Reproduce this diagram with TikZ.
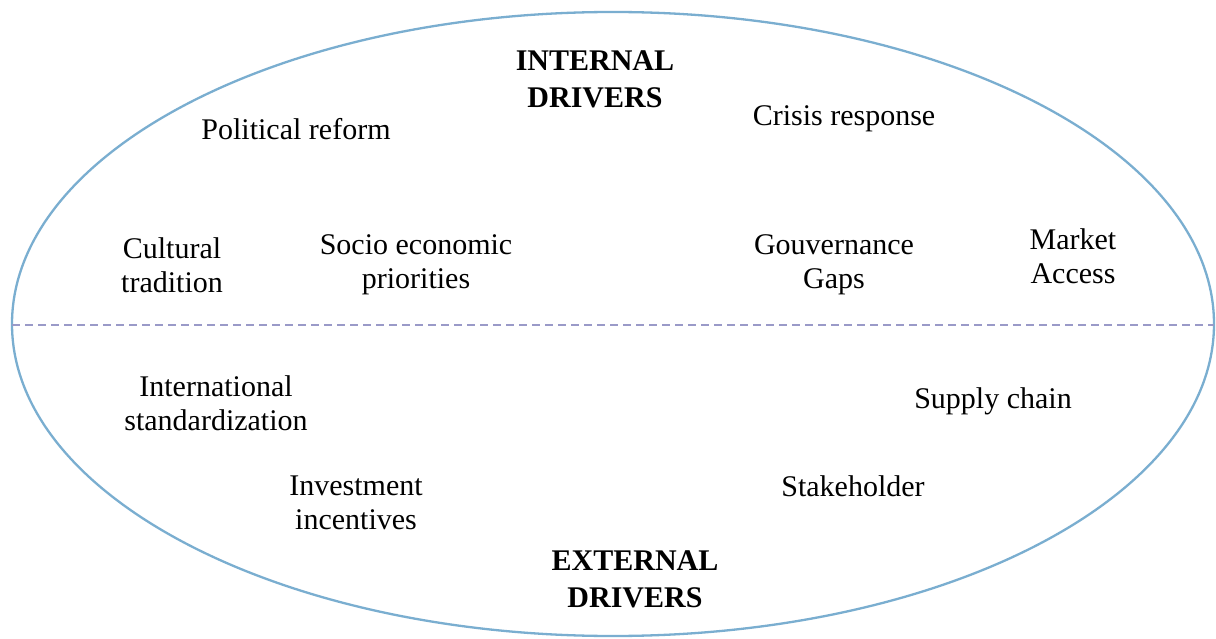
\documentclass[tikz,border=0pt]{standalone}
\usepackage{fontspec}
\setmainfont{Liberation Serif}
\definecolor{ellcol}{HTML}{7AAED0}
\definecolor{dashcol}{HTML}{9A9AC8}
\begin{document}
\begin{tikzpicture}[x=1pt,y=-1pt,
  lbl/.style={align=center,inner sep=0pt,font=\fontsize{30}{34}\selectfont},
  hdr/.style={align=center,inner sep=0pt,font=\fontsize{30}{37}\selectfont\bfseries}]
\useasboundingbox[fill=white] (0,0) rectangle (1216,639);
\draw[ellcol,line width=2.3pt] (613,324) ellipse [x radius=601, y radius=312];
\coordinate (dl) at (12,325);
\coordinate (dr) at (1214,325);
\draw[dashcol,line width=1.3pt,dash pattern=on 8pt off 5pt] (dl) -- (dr);
\node[hdr] (int) at (595,79) {INTERNAL\\DRIVERS};
\node[hdr] (ext) at (635,579) {EXTERNAL\\DRIVERS};
\node[lbl] (pol) at (296,129) {Political reform};
\node[lbl] (cri) at (844,119) {Crisis response};
\node[lbl] (cul) at (172,265) {Cultural\\tradition};
\node[lbl] (soc) at (416,265) {Socio economic\\priorities};
\node[lbl] (gov) at (834,265) {Gouvernance\\Gaps};
\node[lbl] (mar) at (1073,256) {Market\\Access};
\node[lbl] (intl) at (216,403) {International\\standardization};
\node[lbl] (sup) at (993,401) {Supply chain};
\node[lbl] (inv) at (356,503) {Investment\\incentives};
\node[lbl] (sta) at (853,486) {Stakeholder};
\end{tikzpicture}
\end{document}
